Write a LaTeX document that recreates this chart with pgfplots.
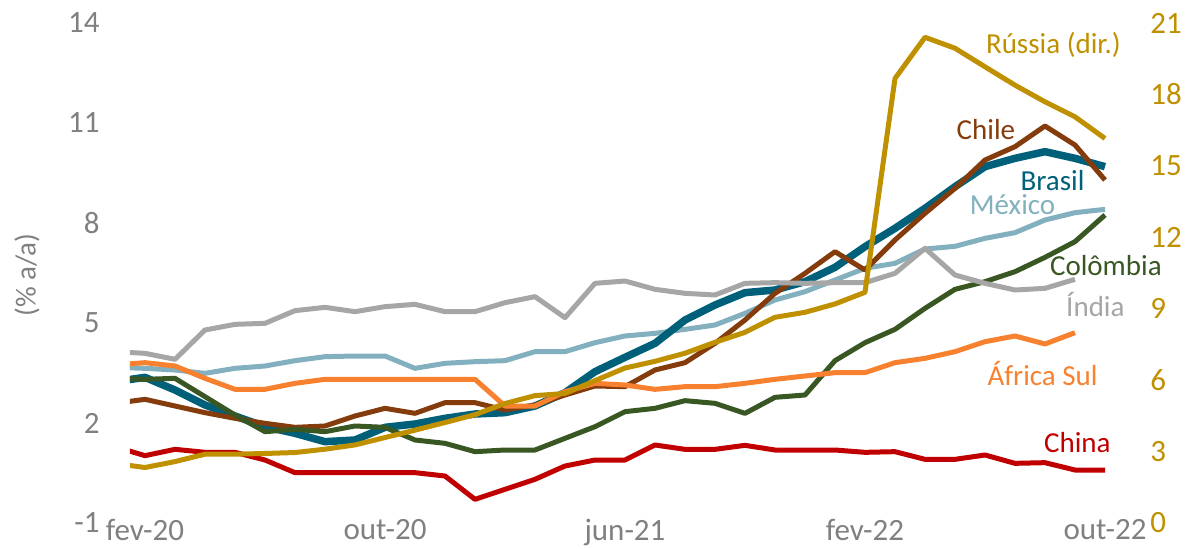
\documentclass[border=0pt]{standalone}
\usepackage{fontspec}
\setmainfont{Carlito}
\usepackage{pgfplots}
\pgfplotsset{compat=1.18}
\usepackage{pgfplotstable}

\definecolor{cBra}{HTML}{00607A}
\definecolor{cChi}{HTML}{843C0C}
\definecolor{cMex}{HTML}{82B0BE}
\definecolor{cCol}{HTML}{385723}
\definecolor{cInd}{HTML}{A6A6A6}
\definecolor{cAfr}{HTML}{F7812F}
\definecolor{cChn}{HTML}{C00000}
\definecolor{cRus}{HTML}{BF9000}
\definecolor{cTick}{HTML}{808080}

\pgfplotstableread{
x   bra    chi    mex    col    ind    afr    chn    rus
-1  3.24   2.59   3.67   3.34   4.14   3.74   1.29   2.50
0   3.37   2.71   3.64   3.31   4.09   3.81   1.02   2.33
1   2.99   2.51   3.59   3.34   3.91   3.71   1.21   2.58
2   2.54   2.31   3.49   2.79   4.79   3.34   1.12   2.89
3   2.21   2.14   3.64   2.24   4.96   3.01   1.12   2.89
4   1.89   1.99   3.71   1.74   4.99   3.01   0.89   2.92
5   1.69   1.87   3.87   1.81   5.37   3.19   0.51   2.96
6   1.44   1.91   3.99   1.74   5.47   3.31   0.51   3.10
7   1.49   2.21   4.01   1.91   5.34   3.31   0.51   3.28
8   1.87   2.44   4.01   1.87   5.49   3.31   0.51   3.59
9   1.97   2.29   3.64   1.49   5.56   3.31   0.51   3.90
10  2.14   2.61   3.79   1.39   5.34   3.31   0.41   4.22
11  2.27   2.61   3.84   1.14   5.34   3.31  -0.29   4.55
12  2.31   2.39   3.87   1.19   5.61   2.51   0.01   5.02
13  2.51   2.54   4.14   1.19   5.79   2.51   0.31   5.35
14  2.91   2.84   4.14   1.54   5.16   2.94   0.71   5.44
15  3.54   3.11   4.41   1.89   6.19   3.19   0.89   5.98
16  3.97   3.09   4.61   2.34   6.26   3.14   0.89   6.51
17  4.39   3.59   4.69   2.44   6.01   3.01   1.34   6.79
18  5.09   3.81   4.81   2.67   5.89   3.09   1.21   7.13
19  5.54   4.39   4.94   2.59   5.84   3.09   1.21   7.59
20  5.91   5.09   5.29   2.29   6.19   3.19   1.33   8.01
21  5.99   5.89   5.69   2.77   6.21   3.31   1.19   8.64
22  6.24   6.49   5.94   2.84   6.19   3.41   1.19   8.85
23  6.67   7.14   6.29   3.87   6.21   3.51   1.19   9.20
24  7.29   6.59   6.64   4.41   6.21   3.51   1.12   9.69
25  7.84   7.49   6.79   4.81   6.49   3.81   1.14   18.67
26  8.44   8.29   7.22   5.44   7.24   3.94   0.91   20.40
27  9.09   9.04   7.30   6.01   6.44   4.14   0.91   19.94
28  9.69   9.89   7.54   6.24   6.19   4.44   1.04   19.16
29  9.94   10.29  7.71   6.54   5.99   4.61   0.79   18.39
30  10.14  10.91  8.09   6.97   6.04   4.37   0.81   17.69
31  9.94   10.34  8.31   7.44   6.31   4.71   0.59   17.06
32  9.69   9.29   8.41   8.24   nan    nan    0.59   16.15
}\datatab

\newcommand{\tickfont}{\fontsize{15.5}{18}\selectfont}
\newcommand{\labfont}{\fontsize{14.5}{17}\selectfont}

\begin{document}
\begin{tikzpicture}[x=1pt,y=1pt]
\begin{axis}[
  at={(65pt,12.5pt)}, anchor=south west,
  scale only axis, width=495pt, height=250pt,
  xmin=-0.5, xmax=32.5, ymin=-1, ymax=14,
  axis line style={draw=none},
  major tick length=0pt,
  xtick={0,8,16,24,32},
  xticklabels={fev-20,out-20,jun-21,fev-22,out-22},
  ytick={-1,2,5,8,11,14},
  yticklabels={-1,2,5,8,11,14},
  tick label style={font=\tickfont, text=cTick},
  xticklabel style={anchor=north, inner sep=0pt, yshift=2pt},
  yticklabel style={anchor=east, inner sep=0pt, xshift=-15pt},
  clip mode=individual,
  every axis plot/.append style={line join=round, line width=2.5pt},
]
\addplot[cMex] table[x=x,y=mex]{\datatab};
\addplot[cBra, line width=3.75pt] table[x=x,y=bra]{\datatab};
\addplot[cChi] table[x=x,y=chi]{\datatab};
\addplot[cCol] table[x=x,y=col]{\datatab};
\addplot[cInd] table[x=x,y=ind]{\datatab};
\addplot[cAfr] table[x=x,y=afr]{\datatab};
\addplot[cChn] table[x=x,y=chn]{\datatab};

\node[text=cRus, font=\labfont] at (axis cs:30.28,13.34) {Rússia (dir.)};
\node[text=cChi, font=\labfont] at (axis cs:28.03,10.79) {Chile};
\node[text=cBra, font=\labfont] at (axis cs:30.25,9.26) {Brasil};
\node[text=cMex, font=\labfont] at (axis cs:28.92,8.54) {México};
\node[text=cCol, font=\labfont] at (axis cs:32.03,6.71) {Colômbia};
\node[text=cInd, font=\labfont] at (axis cs:31.68,5.57) {Índia};
\node[text=cAfr, font=\labfont] at (axis cs:29.92,3.50) {África Sul};
\node[text=cChn, font=\labfont] at (axis cs:31.08,1.40) {China};
\end{axis}

\begin{axis}[
  at={(65pt,12.5pt)}, anchor=south west,
  scale only axis, width=495pt, height=250pt,
  xmin=-0.5, xmax=32.5, ymin=0, ymax=21,
  axis line style={draw=none},
  major tick length=0pt,
  xtick=\empty,
  ytick={0,3,6,9,12,15,18,21},
  yticklabels={0,3,6,9,12,15,18,21},
  ytick pos=right, yticklabel pos=right,
  tick label style={font=\tickfont, text=cRus},
  yticklabel style={anchor=west, inner sep=0pt, xshift=15pt},
  every axis plot/.append style={line join=round, line width=2.5pt},
]
\addplot[cRus] table[x=x,y=rus]{\datatab};
\end{axis}

\node[rotate=90, text=cTick, font=\labfont] at (13.5,136.5) {(\% a/a)};

\pgfresetboundingbox
\path[use as bounding box] (0,0) rectangle (595.5,274);
\end{tikzpicture}
\end{document}
